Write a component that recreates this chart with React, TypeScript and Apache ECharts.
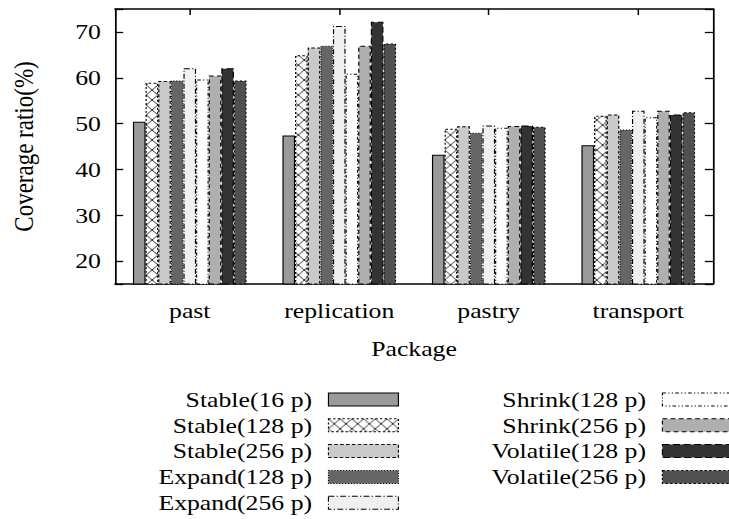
import { useEffect, useRef } from 'react';
import * as echarts from 'echarts';

// ---- data ----
const categories = ['past', 'replication', 'pastry', 'transport'];
const seriesNames = [
  'Stable(16 p)',
  'Stable(128 p)',
  'Stable(256 p)',
  'Expand(128 p)',
  'Expand(256 p)',
  'Shrink(128 p)',
  'Shrink(256 p)',
  'Volatile(128 p)',
  'Volatile(256 p)',
];
const stable16 = [50.4, 47.4, 43.2, 45.3];
const stable128 = [58.9, 64.9, 48.9, 51.7];
const stable256 = [59.3, 66.6, 49.4, 52.0];
const expand128 = [59.4, 67.0, 48.0, 48.7];
const expand256 = [62.1, 71.3, 49.6, 52.8];
const shrink128 = [59.6, 60.9, 49.1, 51.4];
const shrink256 = [60.5, 67.0, 49.5, 52.8];
const volatile128 = [62.1, 72.2, 49.6, 52.0];
const volatile256 = [59.4, 67.5, 49.3, 52.5];
const yMin = 15;
const yMax = 75;
const yTickLabels = [20, 30, 40, 50, 60, 70];
const xTitle = 'Package';
const yTitle = 'Coverage ratio(%)';

// ---- layout (the whole chart is stretched horizontally like the reference) ----
const W = 729;
const H = 519;
const W0 = 623;
const S = W / W0;
const FONT = 'Liberation Serif';

function makeCrossPattern() {
  const w = 10;
  const h = 10;
  const c = document.createElement('canvas');
  c.width = w;
  c.height = h;
  const ctx = c.getContext('2d')!;
  ctx.fillStyle = '#ffffff';
  ctx.fillRect(0, 0, w, h);
  ctx.strokeStyle = '#222222';
  ctx.lineWidth = 0.9;
  ctx.beginPath();
  ctx.moveTo(0, 0);
  ctx.lineTo(w, h);
  ctx.moveTo(w, 0);
  ctx.lineTo(0, h);
  ctx.stroke();
  return c;
}

export default function App() {
  const ref = useRef<HTMLDivElement>(null);

  useEffect(() => {
    if (!ref.current) return;
    const chart = echarts.init(ref.current, undefined, { renderer: 'svg' });
    const cross: any = { image: makeCrossPattern(), repeat: 'repeat', imageWidth: 10, imageHeight: 10 };

    const values = [stable16, stable128, stable256, expand128, expand256, shrink128, shrink256, volatile128, volatile256];
    const fills: any[] = ['#9a9a9a', cross, '#c9c9c9', '#666666', '#f0f0f0', '#ffffff', '#afafaf', '#333333', '#505050'];
    const dashes: any[] = ['solid', [2, 2], [3, 2], [1, 1.5], [5, 2, 1, 2], [3, 2, 1, 2, 1, 2], [4, 3], [6, 3], [2, 2]];

    const legendItem = (name: string) => {
      const i = seriesNames.indexOf(name);
      return { name, itemStyle: { borderColor: '#000', borderWidth: 1, borderType: dashes[i] } };
    };
    const legendText = {
      fontFamily: FONT,
      fontSize: 22,
      lineHeight: 22,
      color: '#000',
      padding: [0, 9, 0, 0],
    };
    const legendBase = {
      orient: 'vertical',
      align: 'right',
      top: 388.5,
      padding: 0,
      itemGap: 3.8,
      itemWidth: 59.8,
      itemHeight: 13,
      icon: 'rect',
      selectedMode: false,
      textStyle: legendText,
    };

    const axisLine = { show: true, onZero: false, lineStyle: { color: '#000', width: 1.5 } };
    const tickStyle = { color: '#000', width: 1.3 };

    chart.setOption({
      animation: false,
      backgroundColor: '#fff',
      textStyle: { fontFamily: FONT },
      grid: { left: 98.28, right: 13.65, top: 9, bottom: 235, containLabel: false },
      legend: [
        { ...legendBase, right: 282, data: seriesNames.slice(0, 5).map(legendItem) },
        { ...legendBase, right: -3.4, data: seriesNames.slice(5).map(legendItem) },
      ],
      xAxis: [
        {
          type: 'category',
          data: categories,
          position: 'bottom',
          axisLine,
          axisTick: { show: true, inside: true, alignWithLabel: true, length: 6, lineStyle: tickStyle },
          axisLabel: { fontFamily: FONT, fontSize: 22, lineHeight: 22, color: '#000', margin: 16 },
          splitLine: { show: false },
          name: xTitle,
          nameLocation: 'middle',
          nameGap: 54,
          nameTextStyle: { fontFamily: FONT, fontSize: 22, lineHeight: 22, color: '#000' },
        },
        {
          type: 'category',
          data: categories,
          position: 'top',
          axisLine,
          axisTick: { show: true, inside: true, alignWithLabel: true, length: 6, lineStyle: tickStyle },
          axisLabel: { show: false },
          splitLine: { show: false },
        },
      ],
      yAxis: [
        {
          type: 'value',
          min: yMin,
          max: yMax,
          splitNumber: 6,
          position: 'left',
          axisLine,
          axisTick: { show: true, inside: true, length: 7, lineStyle: tickStyle },
          axisLabel: {
            fontFamily: FONT,
            fontSize: 22,
            lineHeight: 22,
            color: '#000',
            margin: 12,
            padding: [4, 0, 0, 0],
            formatter: (v: number) => (yTickLabels.indexOf(v) >= 0 ? String(v) : ''),
          },
          splitLine: { show: false },
          name: yTitle,
          nameLocation: 'middle',
          nameGap: 66,
          nameTextStyle: { fontFamily: FONT, fontSize: 23, lineHeight: 23, color: '#000' },
        },
        {
          type: 'value',
          min: yMin,
          max: yMax,
          splitNumber: 6,
          position: 'right',
          axisLine,
          axisTick: { show: true, inside: true, length: 7, lineStyle: tickStyle },
          axisLabel: { show: false },
          splitLine: { show: false },
        },
      ],
      series: seriesNames.map((name, i) => ({
        name,
        type: 'bar',
        data: values[i],
        barGap: '0%',
        barCategoryGap: '24%',
        clip: true,
        silent: true,
        itemStyle: { color: fills[i], borderColor: '#000', borderWidth: 1, borderType: dashes[i] },
        emphasis: { disabled: true },
      })),
    });

    return () => chart.dispose();
  }, []);

  return (
    <div
      ref={ref}
      style={{
        position: 'fixed',
        left: 0,
        top: 0,
        width: W0,
        height: H,
        transform: `scaleX(${S})`,
        transformOrigin: '0 0',
        background: '#fff',
      }}
    />
  );
}
